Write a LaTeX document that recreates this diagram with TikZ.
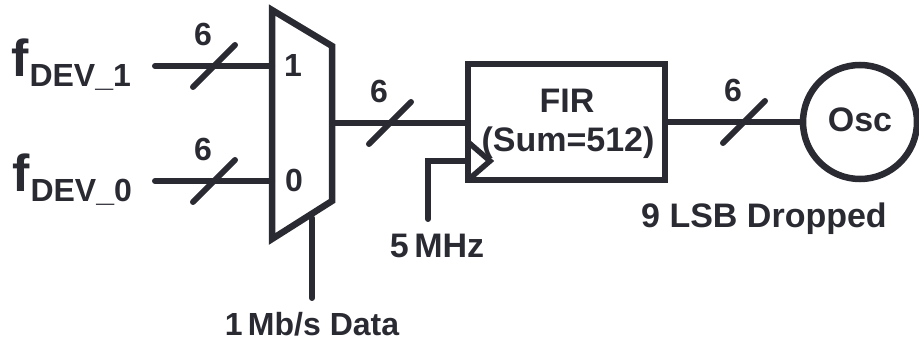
\documentclass[tikz,border=0pt]{standalone}
\usepackage{fontspec}
\setmainfont{Liberation Sans}
\usepackage{tikz}
\usetikzlibrary{positioning}
\definecolor{ink}{HTML}{2A2A33}

\begin{document}
\begin{tikzpicture}
    [ x = 1pt, y = -1pt
    , every node/.style =
      { inner sep = 0pt, text = ink, anchor = base, font = \bfseries\fontsize{34}{38}\selectfont }
    , wire/.style =
      { draw = ink, line width = 6pt, line cap = round }
    , block/.style =
      { draw = ink, line width = 6.5pt, line join = miter, anchor = center }
    , small/.style =
      { font = \bfseries\fontsize{32}{36}\selectfont }
    ]
    \useasboundingbox (0,0) rectangle (919,344);

    % multiplexer outline
    \coordinate (muxtl) at (272,10);
    \coordinate (muxtr) at (332,46);
    \coordinate (muxbr) at (332,201);
    \coordinate (muxbl) at (272,239);
    \draw [block] (muxtl) -- (muxtr) -- (muxbr) -- (muxbl) -- cycle;

    \coordinate (mux1) at (272,66);
    \coordinate (mux0) at (272,181);
    \coordinate (muxout) at (332,123);
    \coordinate (muxsel) at (312,218);
    \node [small] (one) at (293,77) {1};
    \node [small] (zero) at (294,192) {0};

    % blocks
    \node [block, minimum width = 197pt, minimum height = 116pt] (fir) at (566.5,122) {};
    \node (firname) at (567,113) {FIR};
    \node (firsum) at (568,152) {(Sum=512)};
    \node [block, circle, minimum size = 114pt] (osc) at (860,122) {};
    \node (oscname) at (860,132) {Osc};

    % inputs
    \node [anchor=base west, small] (dev1) at (11,77) {\fontsize{52}{52}\selectfont f\hspace{1pt}\raisebox{-10pt}{\fontsize{32}{32}\selectfont DEV\_1}};
    \node [anchor=base west, small] (dev0) at (12,192) {\fontsize{52}{52}\selectfont f\hspace{1pt}\raisebox{-10pt}{\fontsize{32}{32}\selectfont DEV\_0}};
    \coordinate (in1) at (155,66);
    \coordinate (in0) at (155,181);

    % clock and select
    \coordinate (clkpin) at (468,161);
    \coordinate (clkbend) at (428,161);
    \coordinate (clktop) at (468,142);
    \coordinate (clktip) at (490,161);
    \coordinate (clkbot) at (468,180);
    \node (clklabel) at (437,258) {5\,MHz};
    \node [small] (datalabel) at (312,336) {1\,Mb/s Data};
    \node (dropped) at (764,228) {9 LSB Dropped};
    \coordinate (clkend) at (428,219);
    \coordinate (selend) at (312,298);

    \draw [wire] (in1) -- (mux1);
    \draw [wire] (in0) -- (mux0);
    \draw [wire] (muxout) -- (fir.west |- muxout);
    \draw [wire] (fir.east) -- (osc.west);
    \draw [wire] (muxsel) -- (selend);
    \draw [wire] (clkend) -- (clkbend) -- (clkpin);
    \draw [block, line width = 5.5pt] (clktop) -- (clktip) -- (clkbot);

    % bus slashes
    \foreach \name/\px/\py in {a/214/66, b/214/181, c/390/123, d/744/122}
    {
      \coordinate (bus\name) at (\px,\py);
      \draw [wire] ([shift={(-21,21)}]bus\name) -- ([shift={(21,-21)}]bus\name);
      \node [small, anchor=south, xshift=-11pt] (width\name) [above=20pt of bus\name] {6};
    }
  \end{tikzpicture}
\end{document}
